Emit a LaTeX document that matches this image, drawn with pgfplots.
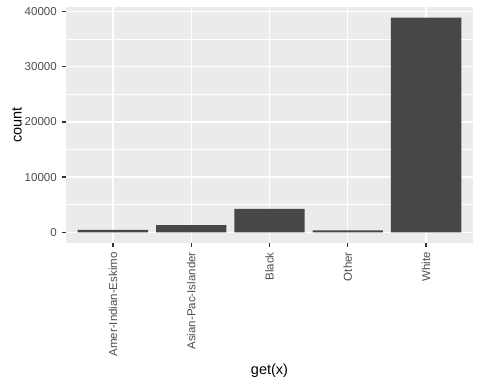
\documentclass[border=0pt]{standalone}
\usepackage{pgfplots}
\pgfplotsset{compat=1.18}
\usepackage{fontspec}
\setmainfont{Liberation Sans}
\definecolor{panelbg}{HTML}{EBEBEB}
\definecolor{barfill}{HTML}{474747}
\definecolor{ticktxt}{HTML}{4D4D4D}
\definecolor{tickcol}{HTML}{333333}
\begin{document}
\begin{tikzpicture}[x=1pt,y=1pt]
\useasboundingbox (0,0) rectangle (480,384);
\begin{axis}[
  at={(66pt,141pt)}, anchor=south west,
  scale only axis, width=407pt, height=236pt,
  xmin=0.4, xmax=5.6, ymin=-1945, ymax=40848,
  axis background/.style={fill=panelbg},
  axis line style={draw=none},
  xtick={1,2,3,4,5},
  xticklabels={Amer-Indian-Eskimo,Asian-Pac-Islander,Black,Other,White},
  ytick={0,10000,20000,30000,40000},
  minor ytick={5000,15000,25000,35000},
  scaled y ticks=false,
  xtick pos=bottom, ytick pos=left,
  grid=both,
  major grid style={white, line width=1.3pt},
  minor grid style={white, line width=0.65pt},
  tick align=outside,
  major tick length=3.6pt,
  every tick/.style={tickcol, line width=1.3pt},
  minor tick length=0pt,
  tick label style={font=\fontsize{11.5}{13}\selectfont, text=ticktxt},
  /pgf/number format/.cd, fixed, 1000 sep={}, assume math mode=true,
  /pgfplots/.cd,
  xticklabel style={rotate=90, anchor=east, inner sep=0pt, xshift=-5.5pt},
  yticklabel style={anchor=east, inner sep=0pt, xshift=-5.5pt},
  ybar, bar width=0.9, bar shift=0pt,
  clip=false,
]
\addplot[fill=barfill, draw=none] coordinates {
  (1,435) (2,1303) (3,4228) (4,353) (5,38903)
};
\end{axis}
\node[rotate=90, font=\fontsize{14.5}{16}\selectfont] at (17,259) {count};
\node[font=\fontsize{14.5}{16}\selectfont] at (269.5,13) {get(x)};
\end{tikzpicture}
\end{document}
